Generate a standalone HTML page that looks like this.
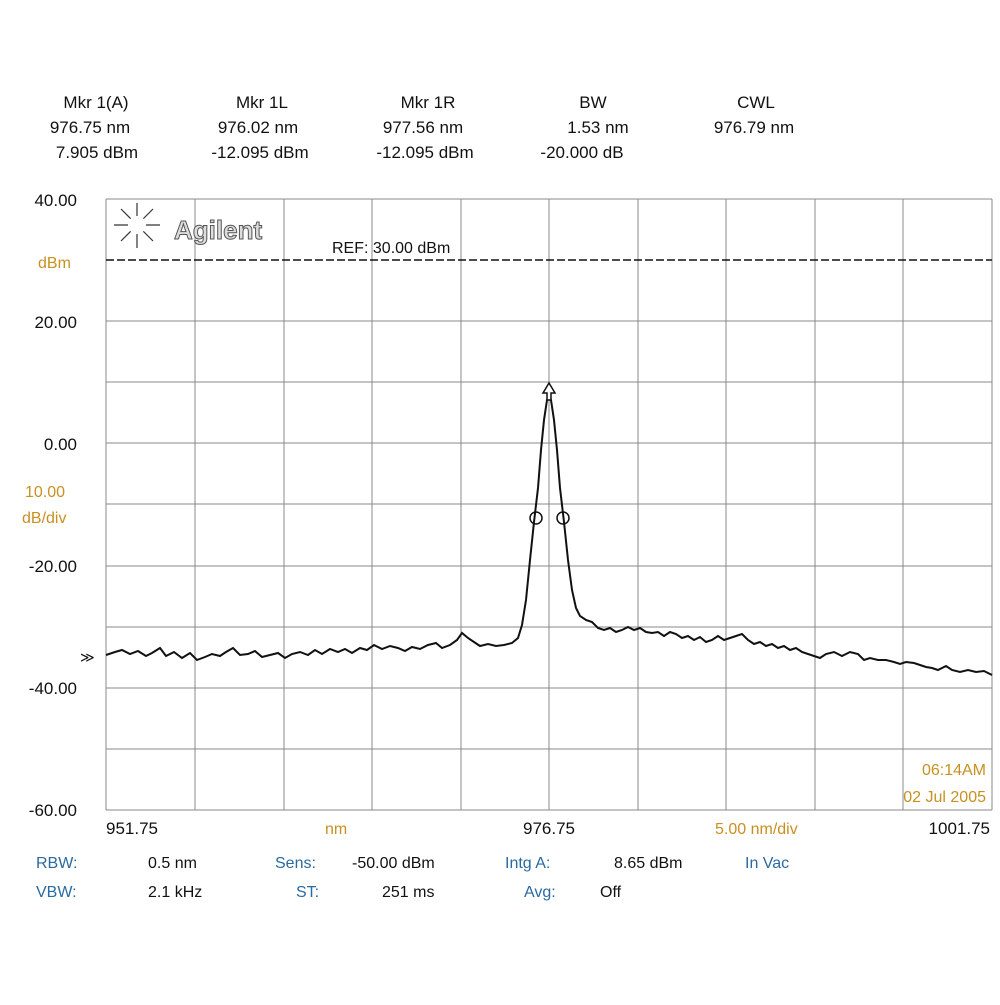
<!DOCTYPE html>
<html><head><style>
body{margin:0;background:#fff;width:1000px;height:1000px;overflow:hidden;font-family:"Liberation Sans",sans-serif}
</style></head><body>
<svg width="1000" height="1000" xmlns="http://www.w3.org/2000/svg" font-family="Liberation Sans, sans-serif">
<g font-size="17" fill="#111" text-anchor="middle">
<text x="96" y="108">Mkr 1(A)</text><text x="90" y="133">976.75 nm</text><text x="97" y="158">7.905 dBm</text>
<text x="262" y="108">Mkr 1L</text><text x="258" y="133">976.02 nm</text><text x="260" y="158">-12.095 dBm</text>
<text x="428" y="108">Mkr 1R</text><text x="423" y="133">977.56 nm</text><text x="425" y="158">-12.095 dBm</text>
<text x="593" y="108">BW</text><text x="598" y="133">1.53 nm</text><text x="582" y="158">-20.000 dB</text>
<text x="756" y="108">CWL</text><text x="754" y="133">976.79 nm</text>
</g>
<g stroke="#888" stroke-width="1">
<line x1="106" y1="199" x2="106" y2="810"/><line x1="195" y1="199" x2="195" y2="810"/><line x1="284" y1="199" x2="284" y2="810"/><line x1="372" y1="199" x2="372" y2="810"/><line x1="461" y1="199" x2="461" y2="810"/><line x1="549" y1="199" x2="549" y2="810"/><line x1="638" y1="199" x2="638" y2="810"/><line x1="726" y1="199" x2="726" y2="810"/><line x1="815" y1="199" x2="815" y2="810"/><line x1="903" y1="199" x2="903" y2="810"/><line x1="992" y1="199" x2="992" y2="810"/>
<line x1="106" y1="199" x2="992" y2="199"/><line x1="106" y1="321" x2="992" y2="321"/><line x1="106" y1="382" x2="992" y2="382"/><line x1="106" y1="443" x2="992" y2="443"/><line x1="106" y1="504" x2="992" y2="504"/><line x1="106" y1="566" x2="992" y2="566"/><line x1="106" y1="627" x2="992" y2="627"/><line x1="106" y1="688" x2="992" y2="688"/><line x1="106" y1="749" x2="992" y2="749"/><line x1="106" y1="810" x2="992" y2="810"/>
</g>
<line x1="106" y1="260" x2="992" y2="260" stroke="#111" stroke-width="1.5" stroke-dasharray="8,3"/>
<text x="332" y="253" font-size="16" fill="#111">REF: 30.00 dBm</text>
<g stroke="#333" stroke-width="1.2" fill="none">
<line x1="137" y1="203" x2="137" y2="248"/><line x1="114" y1="225" x2="160" y2="225"/><line x1="121" y1="209" x2="153" y2="241"/><line x1="153" y1="209" x2="121" y2="241"/>
</g>
<circle cx="137" cy="225" r="9" fill="#fff"/>
<text x="174" y="239" font-size="26" font-weight="bold" fill="#ddd" stroke="#555" stroke-width="1">Agilent</text>
<polyline fill="none" stroke="#111" stroke-width="2" points="106,655 115,652 122,650 130,654 138,651 146,656 152,653 160,648 166,656 174,652 182,658 190,653 197,660 205,657 212,654 220,656 226,652 233,648 240,655 248,654 255,651 262,657 270,655 278,653 285,658 292,654 300,652 308,655 315,650 322,654 330,649 338,652 345,649 352,653 360,648 367,650 374,645 382,649 390,646 398,648 405,651 412,647 420,649 428,645 436,643 442,648 450,645 457,640 462,633 468,638 474,642 480,646 488,644 496,646 504,645 512,643 518,638 522,625 526,600 530,560 534,522 538,488 541,450 544,420 547,400 549,396 551,400 554,420 557,450 560,488 564,522 568,560 572,590 576,608 580,616 586,620 592,622 598,628 604,630 610,628 616,632 622,630 628,627 634,630 640,628 646,632 652,633 658,632 664,636 670,632 676,634 682,638 688,636 694,640 700,637 706,642 712,640 718,636 724,640 730,638 736,636 742,634 748,640 754,644 760,642 766,646 772,644 778,648 784,646 790,650 796,648 802,652 808,654 814,656 820,658 826,654 834,652 842,656 850,652 858,654 864,660 870,658 878,660 886,660 894,662 900,664 906,662 914,663 920,665 926,667 932,668 938,670 946,666 952,670 960,672 968,670 976,672 984,671 992,675"/>
<circle cx="536" cy="518" r="6" fill="none" stroke="#111" stroke-width="1.5"/>
<circle cx="563" cy="518" r="6" fill="none" stroke="#111" stroke-width="1.5"/>
<path d="M549,383 L555,393 L551,393 L551,400 L547,400 L547,393 L543,393 Z" fill="#fff" stroke="#111" stroke-width="1.5"/>
<text x="80" y="662" font-size="14" fill="#111">≫</text>
<g font-size="17" fill="#111" text-anchor="end">
<text x="77" y="206">40.00</text><text x="77" y="328">20.00</text><text x="77" y="450">0.00</text><text x="77" y="572">-20.00</text><text x="77" y="694">-40.00</text><text x="77" y="816">-60.00</text>
</g>
<g font-size="16" fill="#c89020">
<text x="38" y="268">dBm</text><text x="25" y="497">10.00</text><text x="22" y="523">dB/div</text>
<text x="325" y="834">nm</text><text x="715" y="834">5.00 nm/div</text>
<text x="986" y="775" text-anchor="end">06:14AM</text><text x="986" y="802" text-anchor="end">02 Jul 2005</text>
</g>
<g font-size="17" fill="#111">
<text x="106" y="834">951.75</text><text x="549" y="834" text-anchor="middle">976.75</text><text x="990" y="834" text-anchor="end">1001.75</text>
</g>
<g font-size="16">
<text x="36" y="868" fill="#2a6aa0">RBW:</text><text x="148" y="868" fill="#111">0.5 nm</text>
<text x="275" y="868" fill="#2a6aa0">Sens:</text><text x="352" y="868" fill="#111">-50.00 dBm</text>
<text x="505" y="868" fill="#2a6aa0">Intg A:</text><text x="614" y="868" fill="#111">8.65 dBm</text>
<text x="745" y="868" fill="#2a6aa0">In Vac</text>
<text x="36" y="897" fill="#2a6aa0">VBW:</text><text x="148" y="897" fill="#111">2.1 kHz</text>
<text x="296" y="897" fill="#2a6aa0">ST:</text><text x="382" y="897" fill="#111">251 ms</text>
<text x="524" y="897" fill="#2a6aa0">Avg:</text><text x="600" y="897" fill="#111">Off</text>
</g>
</svg>
</body></html>
